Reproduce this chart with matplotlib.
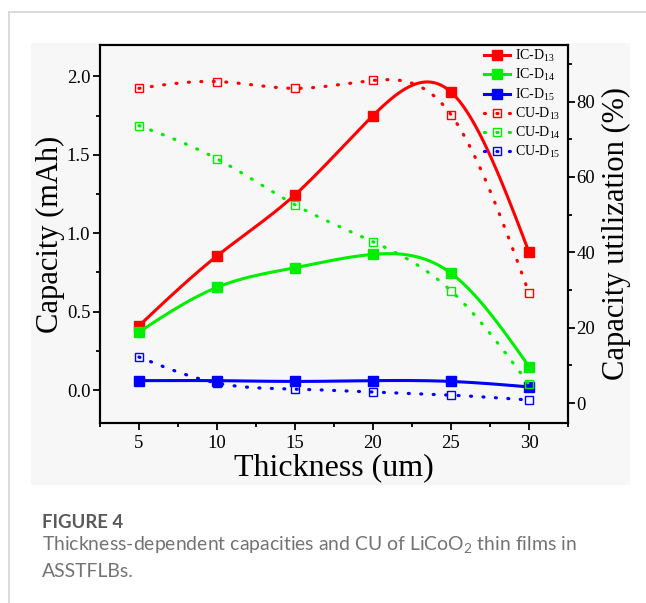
import numpy as np
import matplotlib.pyplot as plt
from matplotlib.patches import Rectangle
from matplotlib.lines import Line2D
from matplotlib.ticker import MultipleLocator

# data
thickness = [5, 10, 15, 20, 25, 30]
ic_d13 = [0.41, 0.855, 1.245, 1.75, 1.90, 0.88]
ic_d14 = [0.37, 0.655, 0.78, 0.865, 0.745, 0.15]
ic_d15 = [0.06, 0.06, 0.055, 0.06, 0.055, 0.02]
cu_d13 = [83.5, 85.3, 83.5, 85.6, 76.5, 29.2]
cu_d14 = [73.6, 64.8, 52.6, 42.8, 29.8, 5.0]
cu_d15 = [12.2, 5.3, 3.7, 2.9, 2.1, 0.8]


def smooth(x, y, n=300):
    # natural cubic spline used only to draw the connecting curve
    x = np.asarray(x, float)
    y = np.asarray(y, float)
    k = len(x)
    h = np.diff(x)
    A = np.zeros((k, k))
    b = np.zeros(k)
    A[0, 0] = A[-1, -1] = 1
    for i in range(1, k - 1):
        A[i, i - 1] = h[i - 1]
        A[i, i] = 2 * (h[i - 1] + h[i])
        A[i, i + 1] = h[i]
        b[i] = 6 * ((y[i + 1] - y[i]) / h[i] - (y[i] - y[i - 1]) / h[i - 1])
    M = np.linalg.solve(A, b)
    xs = np.linspace(x[0], x[-1], n)
    idx = np.clip(np.searchsorted(x, xs) - 1, 0, k - 2)
    x0, x1 = x[idx], x[idx + 1]
    hh = x1 - x0
    ys = (M[idx] * (x1 - xs) ** 3 / (6 * hh) + M[idx + 1] * (xs - x0) ** 3 / (6 * hh)
          + (y[idx] / hh - M[idx] * hh / 6) * (x1 - xs)
          + (y[idx + 1] / hh - M[idx + 1] * hh / 6) * (xs - x0))
    return xs, ys


plt.rcParams['font.family'] = ['Liberation Serif', 'DejaVu Serif']
plt.rcParams['mathtext.fontset'] = 'custom'
plt.rcParams['mathtext.rm'] = 'Liberation Serif'
plt.rcParams['mathtext.it'] = 'Liberation Serif:italic'

W, H = 646, 603
fig = plt.figure(figsize=(W / 100, H / 100), dpi=100)

# page frame and light panel behind the chart
fig.add_artist(Line2D([9 / W, 1], [1 - 12 / H, 1 - 12 / H], color='#d6d6d6', lw=1.2))
fig.add_artist(Line2D([9 / W, 9 / W], [0, 1 - 12 / H], color='#d6d6d6', lw=1.2))
fig.add_artist(Rectangle((31 / W, 1 - 485 / H), 599 / W, 442 / H,
                         facecolor='#f7f7f7', edgecolor='none', zorder=0))

ax = fig.add_axes([100 / W, 1 - 423 / H, 468 / W, 378 / H])
ax.set_facecolor('none')
ax2 = ax.twinx()
ax2.set_facecolor('none')

colors = ['#ff0000', '#00ee00', '#0000ff']
ic_sets = [ic_d13, ic_d14, ic_d15]
cu_sets = [cu_d13, cu_d14, cu_d15]
names = ['13', '14', '15']
dots = (0, (0.3, 3.6))

handles = []
for c, ic, nm in zip(colors, ic_sets, names):
    xs, ys = smooth(thickness, ic)
    ax.plot(xs, ys, color=c, lw=2.2)
    ax.plot(thickness, ic, ls='none', marker='s', ms=6.5, color=c)
    handles.append(Line2D([], [], color=c, lw=2.2, marker='s', ms=6.5,
                          label='IC-D$\\mathregular{_{' + nm + '}}$'))

for c, cu, nm in zip(colors, cu_sets, names):
    xs, ys = smooth(thickness, cu)
    ax2.plot(xs, ys, color=c, lw=2.3, ls=dots, dash_capstyle='round')
    ax2.plot(thickness, cu, ls='none', marker='s', ms=6, mfc='none', mec=c, mew=1)
    handles.append(Line2D([], [], color=c, lw=2.3, ls=dots, dash_capstyle='round',
                          marker='s', ms=6, mfc='none', mec=c, mew=1,
                          label='CU-D$\\mathregular{_{' + nm + '}}$'))

ax.set_xlim(2.5, 32.5)
ax.set_ylim(-0.21, 2.2)
ax2.set_ylim(-5.3, 95)

ax.xaxis.set_major_locator(MultipleLocator(5))
ax.xaxis.set_minor_locator(MultipleLocator(2.5))
ax.yaxis.set_major_locator(MultipleLocator(0.5))
ax.yaxis.set_minor_locator(MultipleLocator(0.25))
ax.yaxis.set_major_formatter(plt.FormatStrFormatter('%.1f'))
ax2.yaxis.set_minor_locator(MultipleLocator(10))
ax2.set_yticks([0, 20, 40, 60, 80])

for a in (ax, ax2):
    for s in a.spines.values():
        s.set_linewidth(1.5)
    a.tick_params(which='major', direction='out', length=5, width=1.3, labelsize=13.5,
                  labelfontfamily='Liberation Serif')
    a.tick_params(which='minor', direction='out', length=3, width=1.3)
ax.tick_params(axis='y', pad=2)
ax2.tick_params(axis='y', pad=1)

ax.set_xlabel('Thickness (um)', fontsize=23, labelpad=1)
ax.set_ylabel('Capacity (mAh)', fontsize=22, labelpad=1)
ax2.set_ylabel('Capacity utilization (%)', fontsize=22, labelpad=5)

ax2.legend(handles=handles, loc='upper right', bbox_to_anchor=(1.0, 1.012),
           frameon=False, fontsize=10, handlelength=1.9, handletextpad=0.3,
           labelspacing=0.22, borderaxespad=0.15)

# caption, sized to the widths measured on the reference
cap_title = fig.text(42 / W, 1 - 528 / H, 'FIGURE 4', fontsize=13.5, color='#5a5a5a',
                     family='Lato', weight='bold', va='baseline')
cap1 = fig.text(42 / W, 1 - 550 / H,
                'Thickness-dependent capacities and CU of LiCoO$\\mathregular{_2}$ thin films in',
                fontsize=13.5, color='#737373', family='Lato', va='baseline')
cap2 = fig.text(42 / W, 1 - 577 / H, 'ASSTFLBs.', fontsize=13.5, color='#737373',
                family='Lato', va='baseline')
plt.rcParams['mathtext.rm'] = 'Lato'

renderer = fig.canvas.get_renderer()
for t, target in ((cap_title, 81), (cap1, 535)):
    w = t.get_window_extent(renderer).width
    t.set_fontsize(t.get_fontsize() * target / w)
cap2.set_fontsize(cap1.get_fontsize())

fig.savefig('out.png', dpi=100)
